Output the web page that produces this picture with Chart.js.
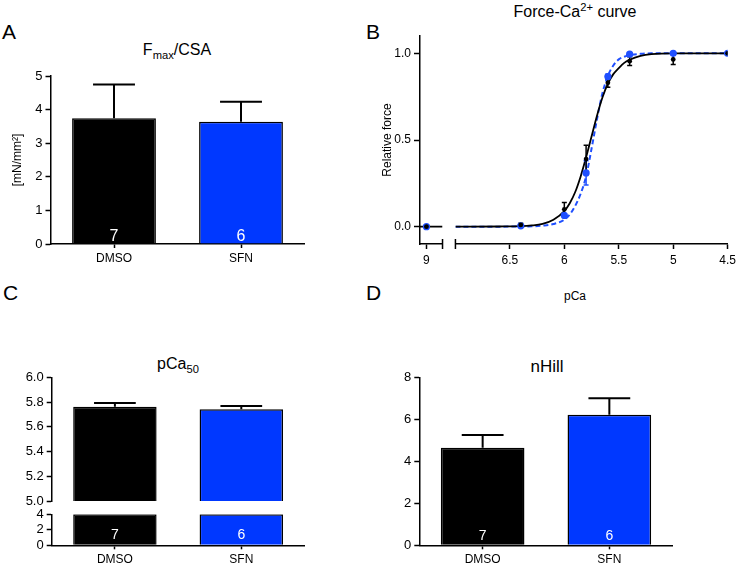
<!DOCTYPE html>
<html>
<head>
<meta charset="utf-8">
<script src="https://cdn.jsdelivr.net/npm/chart.js@4.4.1/dist/chart.umd.min.js"></script>
<style>
  body { margin: 0; background: #fff; width: 740px; height: 565px; position: relative; overflow: hidden;
         font-family: "Liberation Sans", Arial, Helvetica, sans-serif; color: #000; }
  canvas { position: absolute; }
  .txt { position: absolute; line-height: 1; white-space: nowrap; }
  .ttl { transform: translateX(-50%); font-size: 16px; }
  .lbl { font-size: 21px; }
  sub, sup { font-size: 0.7em; line-height: 0; }
</style>
</head>
<body>

<div class="txt lbl" style="left:2px; top:21px;">A</div>
<div class="txt lbl" style="left:366px; top:21px;">B</div>
<div class="txt lbl" style="left:3px; top:282px;">C</div>
<div class="txt lbl" style="left:366px; top:282px;">D</div>

<div class="txt ttl" style="left:177px; top:42px;">F<sub>max</sub>/CSA</div>
<div class="txt ttl" style="left:575px; top:4px;">Force-Ca<sup>2+</sup> curve</div>
<div class="txt ttl" style="left:178px; top:356px;">pCa<sub>50</sub></div>
<div class="txt ttl" style="left:547px; top:358px; font-size:17px;">nHill</div>
<div class="txt ttl" style="left:575px; top:290px; font-size:12px;">pCa</div>

<canvas id="chartA" width="320" height="215" style="left:0; top:60px;"></canvas>
<canvas id="chartB" width="380" height="290" style="left:360px; top:0;"></canvas>
<canvas id="chartC" width="320" height="265" style="left:0; top:300px;"></canvas>
<canvas id="chartD" width="380" height="265" style="left:360px; top:300px;"></canvas>

<script>
// ---- data ----
const groups = ['DMSO', 'SFN'];
const groupN = [7, 6];
const barColors = ['#000000', '#0038ff'];

const fmaxMean = [3.74, 3.64];
const fmaxSem = [1.01, 0.59];
const fmaxTicks = [0, 1, 2, 3, 4, 5];

const pca50Mean = [5.762, 5.741];
const pca50Sem = [0.03, 0.027];
const pca50TopTicks = [5.0, 5.2, 5.4, 5.6, 5.8, 6.0];
const pca50BotTicks = [0, 2, 4];

const nHillMean = [4.65, 6.22];
const nHillSem = [0.6, 0.78];
const nHillTicks = [0, 2, 4, 6, 8];

// force-pCa measured points (mean, SEM)
const pCaPoints = [9, 6.4, 6.0, 5.8, 5.6, 5.4, 5.0, 4.5];
const forceDmso = [0, 0.01, 0.10, 0.39, 0.83, 0.955, 0.965, 1.0];
const semDmso = [0, 0.01, 0.04, 0.08, 0.025, 0.025, 0.03, 0];
const forceSfn = [0, 0.005, 0.065, 0.31, 0.866, 0.995, 1.0, 1.0];
const semSfn = [0, 0, 0.01, 0.07, 0.015, 0, 0, 0];

// fitted curves, sampled from the figure
const fitPca = [7.0, 6.6, 6.4, 6.3, 6.2, 6.1, 6.0, 5.95, 5.9, 5.85, 5.8, 5.75, 5.7, 5.65, 5.6, 5.55, 5.5, 5.45, 5.4, 5.3, 5.2, 5.0, 4.5];
const fitDmso = [0, 0.001, 0.003, 0.007, 0.016, 0.04, 0.09, 0.135, 0.2, 0.29, 0.40, 0.52, 0.64, 0.745, 0.825, 0.88, 0.915, 0.945, 0.963, 0.985, 0.995, 1.0, 1.0];
const fitSfn = [0, 0, 0.001, 0.002, 0.006, 0.015, 0.04, 0.07, 0.12, 0.19, 0.29, 0.45, 0.62, 0.77, 0.87, 0.93, 0.965, 0.98, 0.99, 0.997, 1.0, 1.0, 1.0];
const lowPca = [9.06, 8.85];
const lowForce = [0, 0];

const lowTicks = [9];
const highTicks = [6.5, 6, 5.5, 5, 4.5];
const forceTicks = [0, 0.5, 1.0];

// ---- shared look ----
Chart.defaults.font.family = '"Liberation Sans", Arial, Helvetica, sans-serif';
Chart.defaults.font.size = 12;
Chart.defaults.color = '#000';
Chart.defaults.animation = false;
Chart.defaults.plugins.legend.display = false;
Chart.defaults.plugins.tooltip.enabled = false;

const BLUE_PT = '#1f4fff';

function gridLook(len) {
  return { drawOnChartArea: false, drawTicks: true, tickLength: len, tickWidth: 1.5, tickColor: '#000', offset: false };
}
const borderLook = { display: true, color: '#000', width: 1.5 };
const fixedTicks = arr => s => { s.ticks = arr.map(v => ({ value: v })); };
const tickFont = size => ({ padding: 3, autoSkip: false, maxRotation: 0, font: { size }, color: '#000' });

// error bars + n labels for the bar panels
const barExtras = {
  id: 'barExtras',
  afterDatasetsDraw(chart, args, o) {
    const ctx = chart.ctx;
    const errMeta = chart.getDatasetMeta(o.errSet);
    const ys = chart.scales[errMeta.yAxisID];
    ctx.save();
    ctx.strokeStyle = '#000';
    ctx.lineWidth = 2;
    errMeta.data.forEach((bar, i) => {
      const yMean = ys.getPixelForValue(o.mean[i]);
      const yTop = ys.getPixelForValue(o.mean[i] + o.sem[i]);
      const half = bar.width / 4;
      ctx.beginPath();
      ctx.moveTo(bar.x, yMean);
      ctx.lineTo(bar.x, yTop);
      ctx.moveTo(bar.x - half, yTop);
      ctx.lineTo(bar.x + half, yTop);
      ctx.stroke();
    });
    const nMeta = chart.getDatasetMeta(o.nSet);
    ctx.fillStyle = '#fff';
    ctx.font = o.nSize + 'px "Liberation Sans", Arial, sans-serif';
    ctx.textAlign = 'center';
    ctx.textBaseline = 'alphabetic';
    nMeta.data.forEach((bar, i) => ctx.fillText(String(groupN[i]), bar.x, bar.base - o.nLift));
    ctx.restore();
  }
};

function categoryAxis(height) {
  return {
    type: 'category', offset: true,
    grid: gridLook(4), border: borderLook,
    ticks: tickFont(12),
    afterFit: s => { s.height = height; }
  };
}

function simpleBar(id, mean, sem, ticks, yMax, yWidth, xHeight, pad, nSize, nLift, yTitle) {
  const yAxis = {
    min: 0, max: yMax,
    grid: gridLook(5), border: borderLook,
    afterBuildTicks: fixedTicks(ticks),
    ticks: tickFont(13),
    afterFit: s => { s.width = yWidth; }
  };
  if (yTitle) yAxis.title = { display: true, text: yTitle, font: { size: 12 }, padding: { top: 10.8, bottom: 0 } };
  new Chart(document.getElementById(id), {
    type: 'bar',
    data: {
      labels: groups,
      datasets: [{
        data: mean,
        backgroundColor: barColors,
        borderColor: '#000',
        borderWidth: 1.5,
        categoryPercentage: 1,
        barPercentage: 0.66
      }]
    },
    options: {
      responsive: false, devicePixelRatio: 1,
      layout: { padding: pad },
      scales: { x: categoryAxis(xHeight), y: yAxis },
      plugins: { barExtras: { errSet: 0, nSet: 0, mean, sem, nSize, nLift } }
    },
    plugins: [barExtras]
  });
}

// A: Fmax/CSA
simpleBar('chartA', fmaxMean, fmaxSem, fmaxTicks, 5, 50.5, 31,
  { left: 0, right: 15.5, top: 16, bottom: 0 }, 16, 2.3, '[mN/mm\u00B2]');

// D: nHill
simpleBar('chartD', nHillMean, nHillSem, nHillTicks, 8, 59.3, 19.7,
  { left: 0, right: 67.3, top: 77.3, bottom: 0 }, 14, 5.3, null);

// C: pCa50 with a broken y axis
new Chart(document.getElementById('chartC'), {
  type: 'bar',
  data: {
    labels: groups,
    datasets: [
      {
        data: pca50Mean.map(v => [pca50TopTicks[0], v]),
        yAxisID: 'yTop',
        backgroundColor: barColors, borderColor: '#000', borderWidth: 1.5,
        categoryPercentage: 1, barPercentage: 0.66, grouped: false
      },
      {
        data: pca50Mean.map(() => [pca50BotTicks[0], pca50BotTicks[pca50BotTicks.length - 1]]),
        yAxisID: 'yBot',
        backgroundColor: barColors, borderColor: '#000', borderWidth: 1.5,
        categoryPercentage: 1, barPercentage: 0.66, grouped: false
      }
    ]
  },
  options: {
    responsive: false, devicePixelRatio: 1,
    layout: { padding: { left: 0, right: 15.5, top: 77.3, bottom: 0 } },
    scales: {
      x: categoryAxis(19.7),
      yTop: {
        type: 'linear', position: 'left', stack: 'pc', stackWeight: 123.7, weight: 3,
        min: 5, max: 6,
        grid: gridLook(5), border: borderLook,
        afterBuildTicks: fixedTicks(pca50TopTicks),
        ticks: Object.assign(tickFont(13), { callback: v => Number(v).toFixed(1) }),
        afterFit: s => { s.width = 51.7; }
      },
      yGap: {
        type: 'linear', position: 'left', stack: 'pc', stackWeight: 13.3, weight: 2,
        display: false, min: 0, max: 1,
        afterFit: s => { s.width = 51.7; }
      },
      yBot: {
        type: 'linear', position: 'left', stack: 'pc', stackWeight: 31, weight: 1,
        min: 0, max: 4,
        grid: gridLook(5), border: borderLook,
        afterBuildTicks: fixedTicks(pca50BotTicks),
        ticks: tickFont(13),
        afterFit: s => { s.width = 51.7; }
      }
    },
    plugins: { barExtras: { errSet: 0, nSet: 1, mean: pca50Mean, sem: pca50Sem, nSize: 14, nLift: 6 } }
  },
  plugins: [barExtras]
});

// B: force-pCa curves with a broken x axis
const curveExtras = {
  id: 'curveExtras',
  afterDatasetDraw(chart, args, o) {
    if (args.index !== o.afterSet) return;
    const ctx = chart.ctx, y = chart.scales.y;
    ctx.save();
    ctx.lineWidth = 1.5;
    o.sets.forEach(set => {
      ctx.strokeStyle = set.color;
      pCaPoints.forEach((p, i) => {
        const e = set.sem[i];
        if (!e) return;
        const xs = p > 7 ? chart.scales.x1 : chart.scales.x2;
        const px = xs.getPixelForValue(p);
        const y1 = y.getPixelForValue(set.mean[i] - e);
        const y2 = y.getPixelForValue(set.mean[i] + e);
        ctx.beginPath();
        ctx.moveTo(px, y1); ctx.lineTo(px, y2);
        ctx.moveTo(px - 2.5, y1); ctx.lineTo(px + 2.5, y1);
        ctx.moveTo(px - 2.5, y2); ctx.lineTo(px + 2.5, y2);
        ctx.stroke();
      });
    });
    ctx.restore();
  },
  afterDraw(chart) {
    const ctx = chart.ctx, x1 = chart.scales.x1, x2 = chart.scales.x2;
    ctx.save();
    ctx.strokeStyle = '#000';
    ctx.lineWidth = 1.5;
    ctx.beginPath();
    ctx.moveTo(x1.right, x1.top - 5); ctx.lineTo(x1.right, x1.top + 5);
    ctx.moveTo(x2.left, x2.top - 5); ctx.lineTo(x2.left, x2.top + 5);
    ctx.stroke();
    ctx.restore();
  }
};

const toXY = (xs, ys) => xs.map((x, i) => ({ x, y: ys[i] }));
const isLow = p => p > 7;

function xSeg(weight, stackWeight, min, max, ticks) {
  return {
    type: 'linear', position: 'bottom', stack: 'pca', stackWeight, weight,
    reverse: true, min, max,
    grid: gridLook(5), border: borderLook,
    afterBuildTicks: fixedTicks(ticks),
    ticks: Object.assign(tickFont(12), { padding: 4, callback: v => String(v) }),
    afterFit: s => { s.height = 46; }
  };
}

function pointSets(ys, color, radius, order) {
  return [false, true].map(low => ({
    data: toXY(pCaPoints, ys).filter(d => isLow(d.x) === low),
    xAxisID: low ? 'x1' : 'x2', yAxisID: 'y', order,
    pointRadius: radius, backgroundColor: color, borderColor: color, borderWidth: 0
  }));
}

new Chart(document.getElementById('chartB'), {
  type: 'scatter',
  data: {
    datasets: [
      { // SFN fit, dashed
        data: toXY(fitPca, fitSfn), xAxisID: 'x2', yAxisID: 'y', order: 5,
        showLine: true, borderColor: BLUE_PT, borderWidth: 2, borderDash: [5, 3],
        pointRadius: 0, cubicInterpolationMode: 'monotone'
      },
      { // DMSO fit
        data: toXY(fitPca, fitDmso), xAxisID: 'x2', yAxisID: 'y', order: 4,
        showLine: true, borderColor: '#000', borderWidth: 1.8,
        pointRadius: 0, cubicInterpolationMode: 'monotone'
      },
      { // DMSO fit at the pCa 9 side of the break
        data: toXY(lowPca, lowForce), xAxisID: 'x1', yAxisID: 'y', order: 4,
        showLine: true, borderColor: '#000', borderWidth: 1.8, pointRadius: 0
      },
      ...pointSets(forceSfn, BLUE_PT, 3.6, 3),
      ...pointSets(forceDmso, '#000', 2.4, 2)
    ]
  },
  options: {
    responsive: false, devicePixelRatio: 1,
    layout: { padding: { left: 0, right: 10, top: 36, bottom: 0 } },
    scales: {
      x1: xSeg(1, 22.7, 8.85, 9.06, lowTicks),
      xg: {
        type: 'linear', position: 'bottom', stack: 'pca', stackWeight: 13, weight: 2,
        display: false, min: 0, max: 1,
        afterFit: s => { s.height = 46; }
      },
      x2: xSeg(3, 274.3, 4.5, 7, highTicks),
      y: {
        type: 'linear', position: 'left', min: -0.1, max: 1.1,
        grid: gridLook(6), border: borderLook,
        afterBuildTicks: fixedTicks(forceTicks),
        ticks: Object.assign(tickFont(12), { callback: v => Number(v).toFixed(1) }),
        title: { display: true, text: 'Relative force', font: { size: 12 }, padding: { top: 20, bottom: 0 } },
        afterFit: s => { s.width = 60; }
      }
    },
    plugins: {
      curveExtras: {
        afterSet: 1,
        sets: [
          { mean: forceSfn, sem: semSfn, color: BLUE_PT },
          { mean: forceDmso, sem: semDmso, color: '#000' }
        ]
      }
    }
  },
  plugins: [curveExtras]
});
</script>
</body>
</html>
